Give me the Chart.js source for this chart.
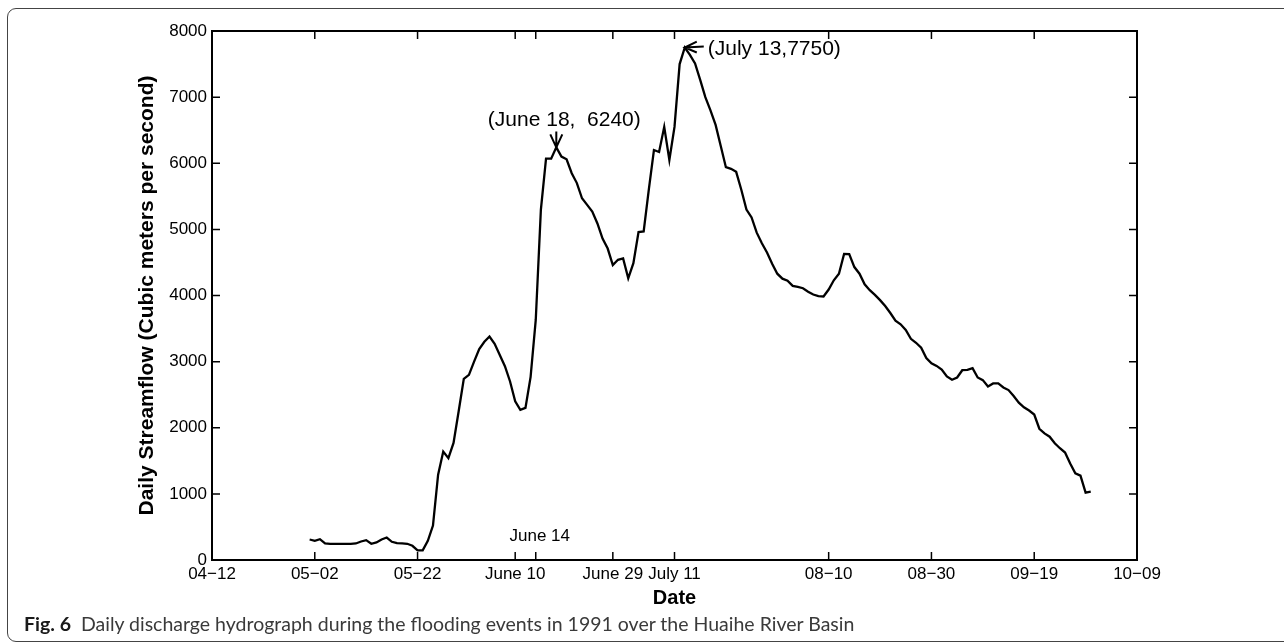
<!DOCTYPE html>
<html>
<head>
<meta charset="utf-8">
<script src="https://cdn.jsdelivr.net/npm/chart.js@4"></script>
<style>
  body { margin: 0; background: #fff; overflow: hidden; }
  #card {
    position: absolute; left: 7px; top: 8px; width: 1320px; height: 632px;
    border: 1px solid #444; border-radius: 9px;
  }
  #wrap { position: absolute; left: 0; top: 0; width: 1284px; height: 643px; }
  #caption {
    position: absolute; left: 24px; top: 613px; white-space: pre;
    font-family: "Lato", sans-serif; font-size: 19.5px; line-height: 22px; color: #3a3a3a;
  }
  #caption b { color: #1a1a1a; }
</style>
</head>
<body>
<div id="card"></div>
<div id="wrap"><canvas id="myChart"></canvas></div>
<div id="caption"><b>Fig. 6</b>  Daily discharge hydrograph during the flooding events in 1991 over the Huaihe River Basin</div>
<script>
// days counted from April 12 (day 0); series starts May 1
const startDay = 19;
const flow = [
  310, 290, 315, 250, 245, 245, 245, 245, 245, 250, 280, 300, 245, 265, 310, 340, 275, 255, 250, 245,
  215, 145, 145, 290, 520, 1290, 1640, 1540, 1770, 2250, 2740, 2800, 3000, 3190, 3300, 3380, 3270, 3100,
  2930, 2700, 2400, 2270, 2300, 2770, 3630, 5300, 6070, 6070, 6240, 6100, 6060, 5850, 5700, 5470, 5370,
  5270, 5090, 4860, 4710, 4460, 4540, 4560, 4260, 4490, 4960, 4970, 5600, 6200, 6170, 6550, 6050, 6550,
  7500, 7750, 7640, 7510, 7260, 7000, 6800, 6580, 6260, 5940, 5915, 5870, 5600, 5300, 5180, 4950, 4790,
  4650, 4480, 4330, 4255, 4225, 4145, 4130, 4110, 4057, 4015, 3990, 3985, 4090, 4230, 4330, 4630, 4625,
  4430, 4330, 4170, 4080, 4010, 3930, 3840, 3735, 3620, 3565, 3480, 3345, 3285, 3210, 3055, 2975, 2935,
  2880, 2775, 2725, 2760, 2870, 2875, 2900, 2760, 2720, 2625, 2670, 2670, 2610, 2570, 2480, 2380, 2310,
  2260, 2200, 1985, 1915, 1865, 1765, 1690, 1625, 1460, 1310, 1275, 1020, 1035,
];

const xTickDays = [0, 20, 40, 59, 63, 78, 90, 120, 140, 160, 180];
const xTickLabels = ["04\u221212", "05\u221202", "05\u221222", "June 10", "", "June 29", "July 11", "08\u221210", "08\u221230", "09\u221219", "10\u221209"];
const yTicks = [0, 1000, 2000, 3000, 4000, 5000, 6000, 7000, 8000];

// peak notes
const peakDays = [67, 92];
const peakValues = [6240, 7750];
const peakLabels = ["(June 18,  6240)", "(July 13,7750)"];
const insideLabelDay = 63;
const insideLabel = "June 14";

const points = flow.map((v, i) => ({ x: startDay + i, y: v }));

const FONT = "'Liberation Sans', Arial, sans-serif";

const framePlugin = {
  id: "frame",
  afterDatasetsDraw(chart) {
    const { ctx, chartArea: a, scales } = chart;
    const x = scales.x, y = scales.y;
    ctx.save();
    ctx.strokeStyle = "#000";
    ctx.lineWidth = 2;
    ctx.strokeRect(a.left, a.top, a.right - a.left, a.bottom - a.top);
    // inward ticks on all four sides
    ctx.lineWidth = 1.5;
    ctx.beginPath();
    xTickDays.forEach((d) => {
      const px = x.getPixelForValue(d);
      ctx.moveTo(px, a.bottom);
      ctx.lineTo(px, a.bottom - 8);
      ctx.moveTo(px, a.top);
      ctx.lineTo(px, a.top + 8);
    });
    yTicks.forEach((v) => {
      const py = y.getPixelForValue(v);
      ctx.moveTo(a.left, py);
      ctx.lineTo(a.left + 8, py);
      ctx.moveTo(a.right, py);
      ctx.lineTo(a.right - 8, py);
    });
    ctx.stroke();

    // June 14 label sits inside the plot
    ctx.fillStyle = "#000";
    ctx.font = "17px " + FONT;
    ctx.textAlign = "center";
    ctx.textBaseline = "middle";
    ctx.fillText(insideLabel, x.getPixelForValue(insideLabelDay) + 4, a.bottom - 24);

    // peak annotations with arrows
    ctx.font = "21px " + FONT;
    ctx.lineWidth = 2;
    // June 18: arrow pointing down
    let px = x.getPixelForValue(peakDays[0]);
    let py = y.getPixelForValue(peakValues[0]);
    ctx.beginPath();
    ctx.moveTo(px, py - 16);
    ctx.lineTo(px, py);
    ctx.moveTo(px - 6, py - 13);
    ctx.lineTo(px, py);
    ctx.lineTo(px + 6, py - 13);
    ctx.stroke();
    ctx.fillText(peakLabels[0], px + 8, py - 27);
    // July 13: arrow pointing left
    px = x.getPixelForValue(peakDays[1]);
    py = y.getPixelForValue(peakValues[1]);
    ctx.beginPath();
    ctx.moveTo(px + 19, py - 1);
    ctx.lineTo(px, py);
    ctx.moveTo(px + 12, py - 6);
    ctx.lineTo(px, py);
    ctx.lineTo(px + 12, py + 5);
    ctx.stroke();
    ctx.textAlign = "left";
    ctx.fillText(peakLabels[1], px + 23, py + 2);
    ctx.restore();
  },
};

const config = {
  type: "line",
  data: {
    datasets: [
      {
        data: points,
        borderColor: "#000",
        borderWidth: 2.3,
        pointRadius: 0,
        tension: 0,
        fill: false,
      },
    ],
  },
  options: {
    responsive: true,
    maintainAspectRatio: false,
    animation: false,
    layout: { padding: { left: 0, right: 147, top: 31, bottom: 23 } },
    plugins: { legend: { display: false }, tooltip: { enabled: false } },
    scales: {
      x: {
        type: "linear",
        min: 0,
        max: 180,
        afterBuildTicks: (s) => {
          s.ticks = xTickDays.map((d) => ({ value: d }));
        },
        afterFit: (s) => {
          s.height = 60;
        },
        grid: { display: false, drawTicks: false },
        border: { display: false },
        ticks: {
          autoSkip: false,
          maxRotation: 0,
          padding: 4,
          color: "#000",
          font: { family: FONT, size: 17 },
          callback: (v, i) => xTickLabels[i],
        },
        title: {
          display: true,
          text: "Date",
          color: "#000",
          font: { family: FONT, size: 20, weight: "bold" },
          padding: { top: 0, bottom: 10 },
        },
      },
      y: {
        min: 0,
        max: 8000,
        afterBuildTicks: (s) => {
          s.ticks = yTicks.map((v) => ({ value: v }));
        },
        afterFit: (s) => {
          s.width = 212;
        },
        grid: { display: false, drawTicks: false },
        border: { display: false },
        ticks: {
          padding: 5,
          color: "#000",
          font: { family: FONT, size: 17 },
          callback: (v) => String(v),
        },
        title: {
          display: true,
          text: "Daily Streamflow (Cubic meters per second)",
          color: "#000",
          font: { family: FONT, size: 21, weight: "bold" },
          padding: { top: 135, bottom: 0 },
        },
      },
    },
  },
  plugins: [framePlugin],
};

const myChart = new Chart(document.getElementById("myChart"), config);
</script>
</body>
</html>
